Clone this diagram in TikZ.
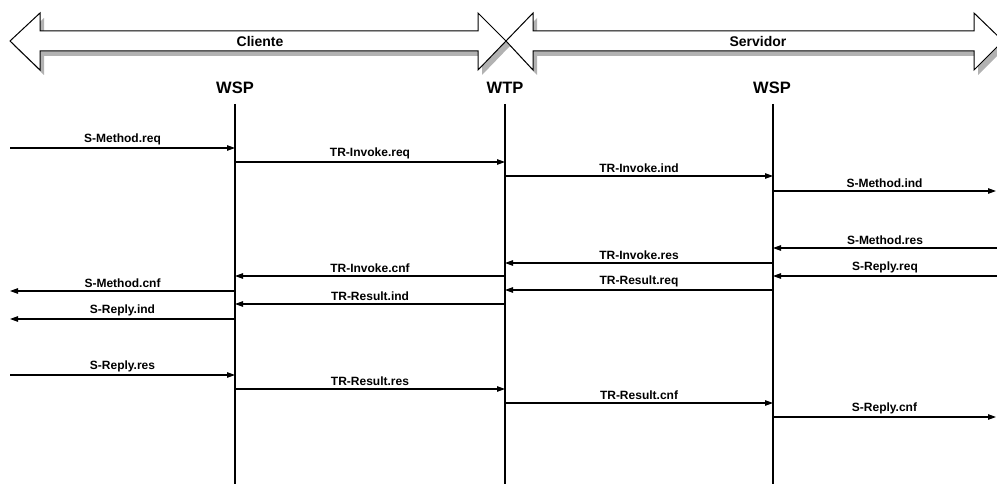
\documentclass[tikz,border=0pt]{standalone}
\usepackage{fontspec}
\setmainfont{Liberation Sans}
\usetikzlibrary{arrows.meta}
\begin{document}
\begin{tikzpicture}[x=1pt,y=-1pt,
  msg/.style={-{Triangle[length=8pt,width=5.5pt]}, line width=1.1pt},
  lbl/.style={font=\bfseries\fontsize{12}{14}\selectfont, inner sep=0pt, above=2.5pt},
  headlbl/.style={font=\bfseries\fontsize{16.5}{18}\selectfont, inner sep=0pt},
  bandlbl/.style={font=\bfseries\fontsize{14}{16}\selectfont, inner sep=0pt},
  life/.style={line width=1.1pt},
  blockarrow/.style={draw=black, fill=white, line width=1pt},
  shadowfill/.style={fill=gray!60, draw=none}]
\useasboundingbox (0,0) rectangle (997,484);

% block arrows: shadows
\fill[shadowfill, shift={(4,5)}] (10,41) -- (40,13) -- (40,31) -- (478,31) -- (478,13) -- (506,41) -- (478,70) -- (478,51) -- (40,51) -- (40,70) -- cycle;
\fill[shadowfill, shift={(4,5)}] (506,41) -- (533,13) -- (533,31) -- (974,31) -- (974,13) -- (1003,41) -- (974,70) -- (974,51) -- (533,51) -- (533,70) -- cycle;
% block arrows
\draw[blockarrow] (10,41) -- (40,13) -- (40,31) -- (478,31) -- (478,13) -- (506,41) -- (478,70) -- (478,51) -- (40,51) -- (40,70) -- cycle;
\draw[blockarrow] (506,41) -- (533,13) -- (533,31) -- (974,31) -- (974,13) -- (1003,41) -- (974,70) -- (974,51) -- (533,51) -- (533,70) -- cycle;
\node[bandlbl] (cliente) at (260,41) {Cliente};
\node[bandlbl] (servidor) at (758,41) {Servidor};

% lifeline heads
\node[headlbl] (wspc) at (235,88) {WSP};
\node[headlbl] (wtp) at (505,88) {WTP};
\node[headlbl] (wsps) at (772,88) {WSP};
\coordinate (cT) at (235,104); \coordinate (cB) at (235,484);
\coordinate (tT) at (505,104); \coordinate (tB) at (505,484);
\coordinate (sT) at (773,104); \coordinate (sB) at (773,484);
\draw[life] (cT) -- (cB);
\draw[life] (tT) -- (tB);
\draw[life] (sT) -- (sB);

% left side: incoming to client WSP
\foreach \y/\t in {148/S-Method.req, 375/S-Reply.res} {
  \coordinate (fl) at (10,\y);
  \draw[msg] (fl) -- (cT |- fl) node[lbl, midway] {\t};
}
% left side: outgoing from client WSP
\foreach \y/\t in {291/S-Method.cnf, 319/S-Reply.ind} {
  \coordinate (fl) at (10,\y);
  \draw[msg] (cT |- fl) -- (fl) node[lbl, midway] {\t};
}
% client WSP -> WTP
\foreach \y/\t in {162/TR-Invoke.req, 389/TR-Result.res} {
  \coordinate (m) at (0,\y);
  \draw[msg] (cT |- m) -- (tT |- m) node[lbl, midway] {\t};
}
% WTP -> client WSP
\foreach \y/\t in {276/TR-Invoke.cnf, 304/TR-Result.ind} {
  \coordinate (m) at (0,\y);
  \draw[msg] (tT |- m) -- (cT |- m) node[lbl, midway] {\t};
}
% WTP -> server WSP
\foreach \y/\t in {176/TR-Invoke.ind, 403/TR-Result.cnf} {
  \coordinate (m) at (0,\y);
  \draw[msg] (tT |- m) -- (sT |- m) node[lbl, midway] {\t};
}
% server WSP -> WTP
\foreach \y/\t in {263/TR-Invoke.res, 290/TR-Result.req} {
  \coordinate (m) at (0,\y);
  \draw[msg] (sT |- m) -- (tT |- m) node[lbl, midway] {\t};
}
% server WSP -> right
\foreach \y/\t in {191/S-Method.ind, 417/S-Reply.cnf} {
  \coordinate (fr) at (996,\y);
  \draw[msg] (sT |- fr) -- (fr) node[lbl, midway] {\t};
}
% right -> server WSP
\foreach \y/\t in {248/S-Method.res, 276/S-Reply.req} {
  \coordinate (fr) at (997,\y);
  \draw[msg] (fr) -- (sT |- fr) node[lbl, midway] {\t};
}
\end{tikzpicture}
\end{document}
